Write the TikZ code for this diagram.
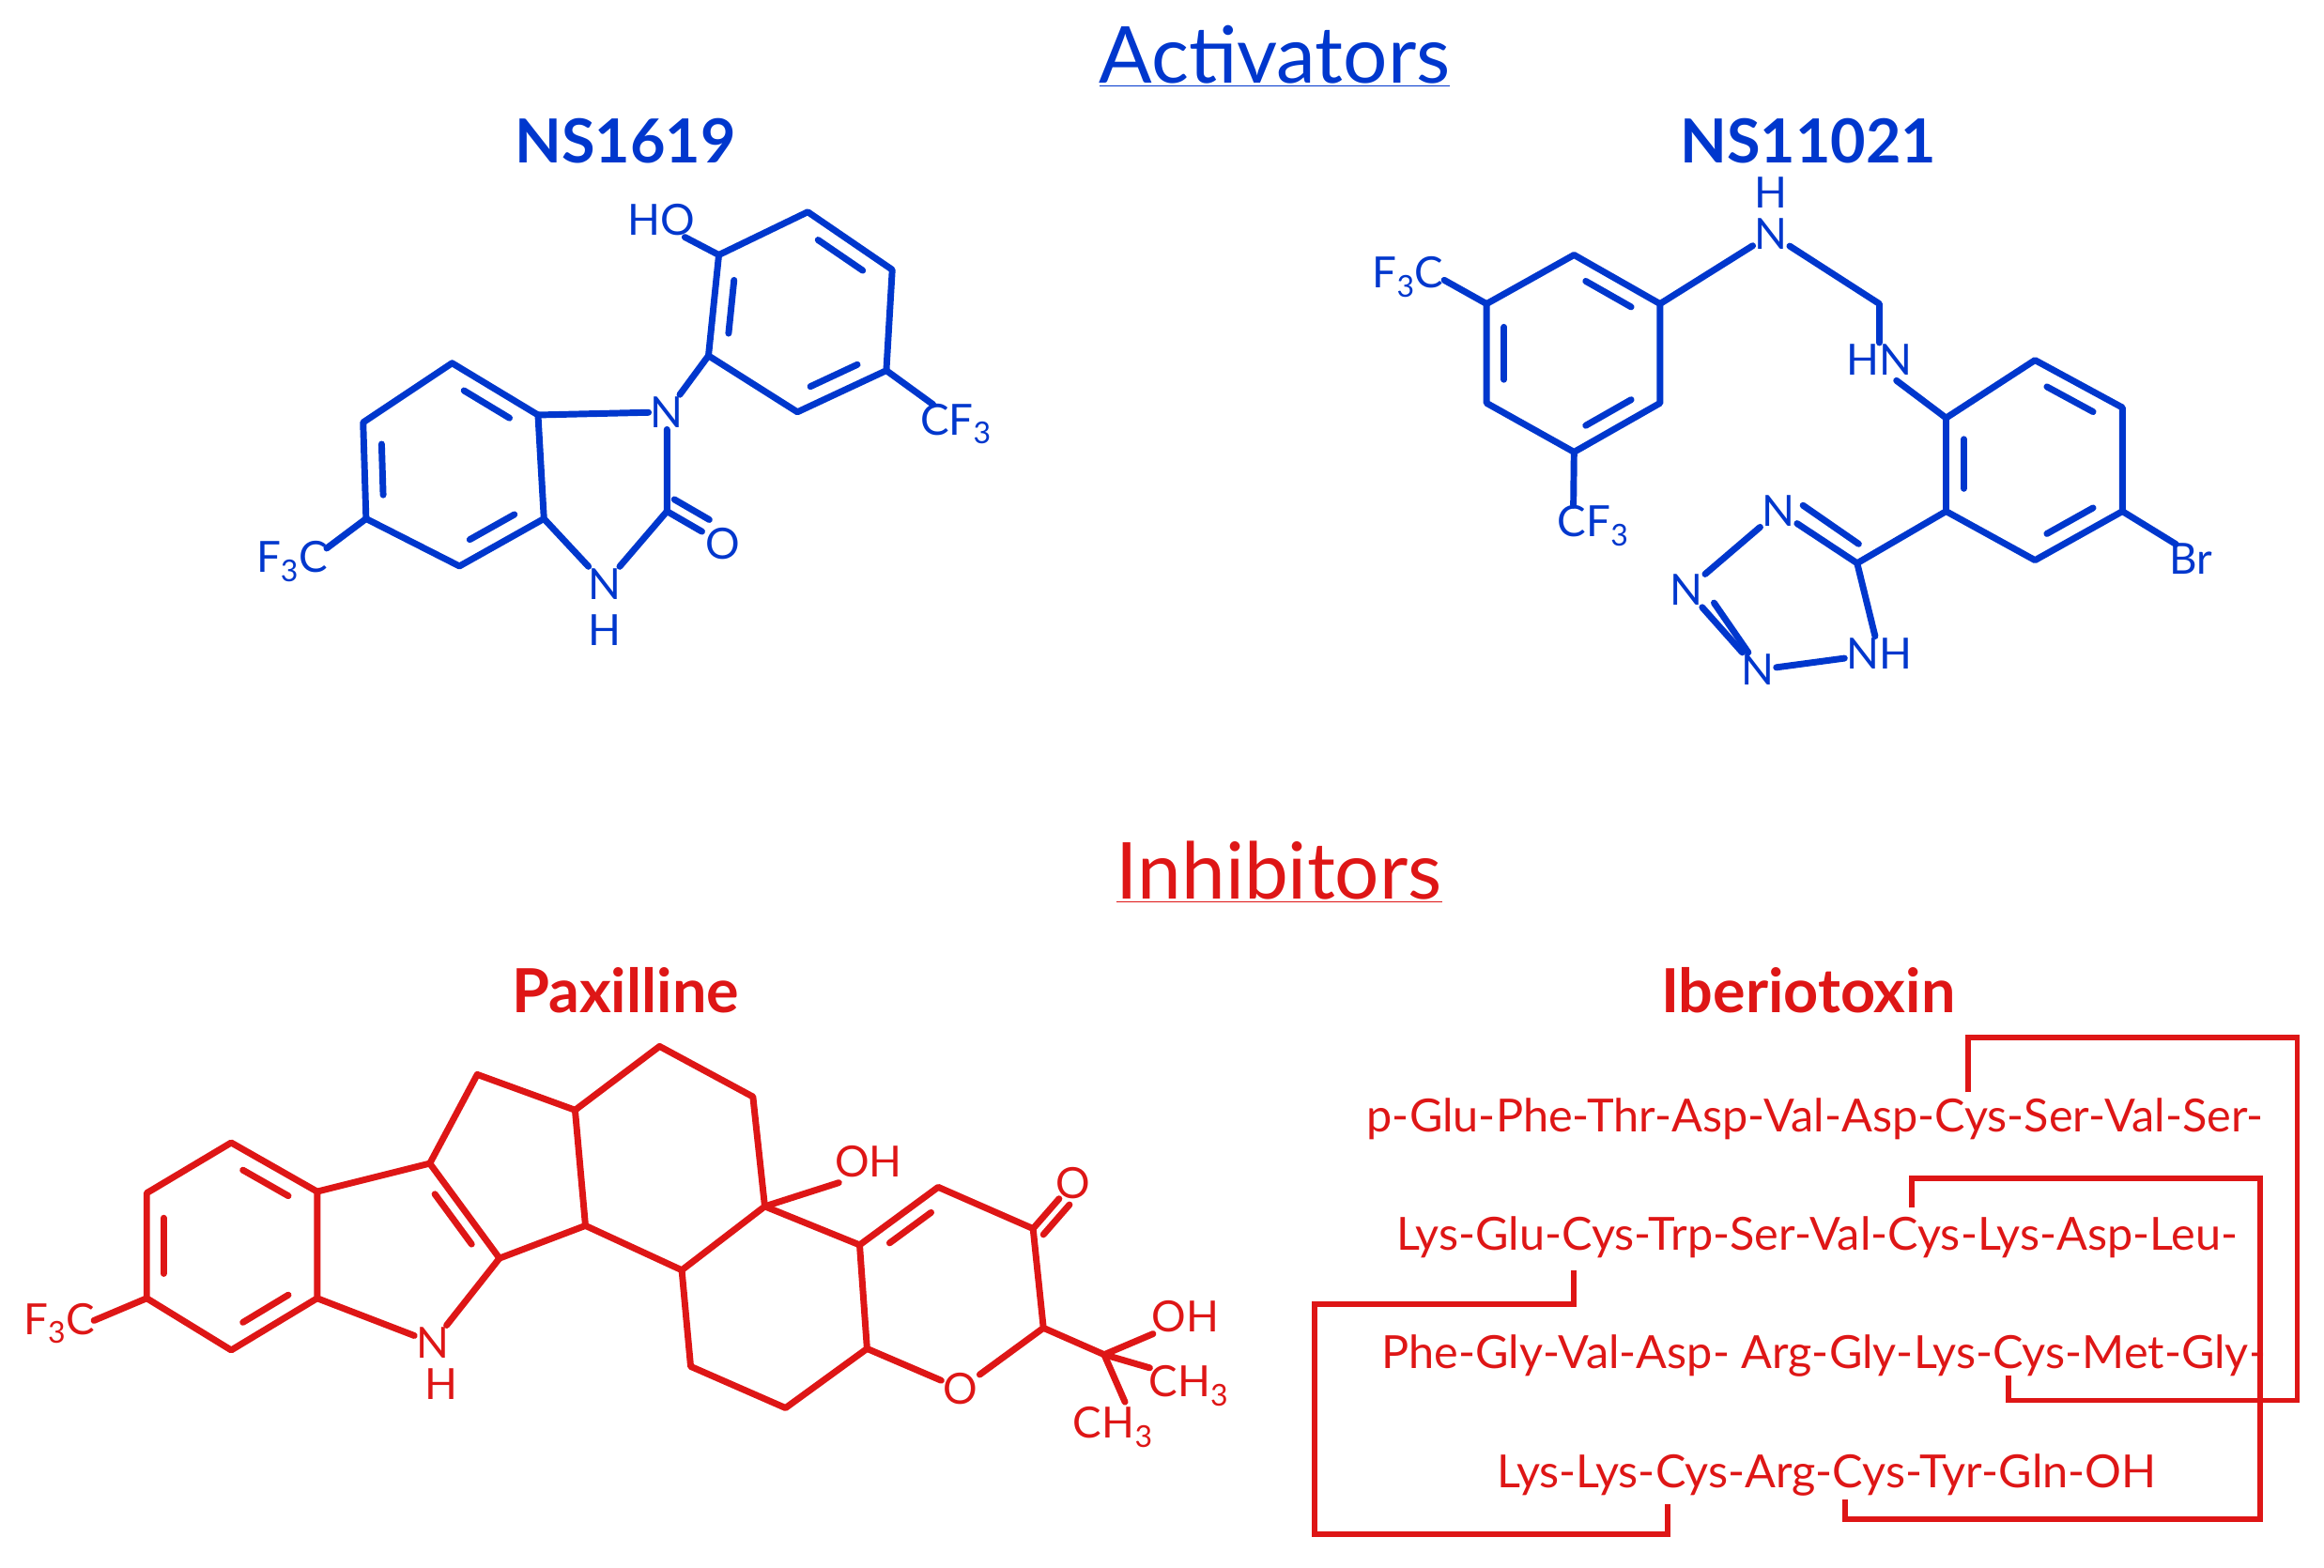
\documentclass[tikz,border=0pt]{standalone}
\usepackage{fontspec}
\setmainfont{Lato}
\usetikzlibrary{calc}
\definecolor{ablue}{RGB}{0,55,205}
\definecolor{ired}{RGB}{222,22,22}
\newcommand\dbl[4][]{\draw[bond,#1] ($($(#2)!.17!(#3)$)!.2!(#4)$) -- ($($(#2)!.83!(#3)$)!.2!(#4)$);}
\begin{document}
\begin{tikzpicture}[x=1pt,y=-1pt,
  bond/.style={line width=4.4pt,line cap=round,line join=round},
  atom/.style={inner sep=1.2pt,font=\fontsize{29}{31}\selectfont},
  ttl/.style={font=\fontsize{53}{56}\selectfont},
  cname/.style={font=\fontsize{41}{44}\selectfont\bfseries},
  seq/.style={font=\fontsize{30.8}{33}\selectfont,anchor=west,inner sep=0pt},
  link/.style={line width=3.6pt,ired}]
\useasboundingbox (0,0) rectangle (1568,1058);
% ---------- titles
\node[ttl,text=ablue] (tact) at (860,38) {\underline{Activators}};
\node[cname,text=ablue] (n1) at (422,95) {NS1619};
\node[cname,text=ablue] (n2) at (1220,95) {NS11021};
\node[ttl,text=ired] (tinh) at (863,588) {\underline{Inhibitors}};
\node[cname,text=ired] (n3) at (422,668) {Paxilline};
\node[cname,text=ired] (n4) at (1220,668) {Iberiotoxin};
% ---------- NS1619
\begin{scope}[ablue,every node/.style={atom,text=ablue}]
\coordinate (a1) at (305,245); \coordinate (a2) at (245,285); \coordinate (a3) at (247,350);
\coordinate (a4) at (310,382); \coordinate (a5) at (367,350); \coordinate (a6) at (363,280);
\coordinate (ca) at (306,314);
\node (aN) at (450,278) {N};
\coordinate (aC) at (450,345);
\node (aNH) at (408,394) {N}; \node (aH) at (408,425) {H};
\node (aO) at (488,367) {O};
\node (aHO) at (446,148) {HO};
\node (aCF) at (645,286) {CF\textsubscript{3}};
\node (aFC) at (197,379) {F\textsubscript{3}C};
\coordinate (b1) at (478,240); \coordinate (b2) at (485,172); \coordinate (b3) at (545,143);
\coordinate (b4) at (602,182); \coordinate (b5) at (598,250); \coordinate (b6) at (538,278);
\coordinate (cb) at (541,211);
\draw[bond] (a1)--(a2)--(a3)--(a4)--(a5)--(a6)--cycle;
\dbl{a1}{a6}{ca} \dbl{a2}{a3}{ca} \dbl{a4}{a5}{ca}
\draw[bond] (a6)--(aN)--(aC)--(aNH)--(a5);
\draw[bond] (aC)--($(aC)!0.62!(aO.center)$);
\draw[bond] ($(aC)+(5,-8)$)--($($(aC)!0.62!(aO.center)$)+(5,-8)$);
\draw[bond] (b1)--(b2)--(b3)--(b4)--(b5)--(b6)--cycle;
\dbl{b1}{b2}{cb} \dbl{b3}{b4}{cb} \dbl{b5}{b6}{cb}
\draw[bond] (b1)--(aN);
\draw[bond] (b2)--($(aHO.south east)+(-8,0)$);
\draw[bond] (b5)--($(aCF.north west)+(10,2)$);
\draw[bond] (a3)--($(aFC.north east)+(-2,6)$);
\end{scope}
% ---------- NS11021
\begin{scope}[ablue,every node/.style={atom,text=ablue}]
\coordinate (B1) at (1062,172); \coordinate (B2) at (1003,205); \coordinate (B3) at (1003,272);
\coordinate (B4) at (1062,305); \coordinate (B5) at (1120,272); \coordinate (B6) at (1120,205);
\coordinate (cB) at (1062,238);
\node (xN) at (1195,158) {N}; \node (xH) at (1195,130) {H};
\coordinate (xCH) at (1268,205);
\node (xHN) at (1268,243) {HN};
\coordinate (c1) at (1313,282); \coordinate (c2) at (1373,243); \coordinate (c3) at (1432,275);
\coordinate (c4) at (1432,345); \coordinate (c5) at (1373,378); \coordinate (c6) at (1313,345);
\coordinate (cC) at (1373,311);
\node (xBr) at (1478,377) {Br};
\coordinate (T) at (1253,380);
\node (Nt) at (1200,345) {N}; \node (Nl) at (1138,398) {N};
\node (Nb) at (1186,452) {N}; \node (NHt) at (1268,441) {NH};
\node (xFC) at (950,187) {F\textsubscript{3}C};
\node (xCF) at (1075,355) {CF\textsubscript{3}};
\draw[bond] (B1)--(B2)--(B3)--(B4)--(B5)--(B6)--cycle;
\dbl{B1}{B6}{cB} \dbl{B2}{B3}{cB} \dbl{B4}{B5}{cB}
\draw[bond] (B6)--(xN)--(xCH)--(xHN);
\draw[bond] (xHN.south east)++(-12,2)--(c1);
\draw[bond] (c1)--(c2)--(c3)--(c4)--(c5)--(c6)--cycle;
\dbl{c2}{c3}{cC} \dbl{c1}{c6}{cC} \dbl{c4}{c5}{cC}
\draw[bond] (c4)--($(xBr.north west)+(6,2)$);
\draw[bond] (c6)--(T)--(Nt)--(Nl)--(Nb)--(NHt)--(T);
\draw[bond] ($(T)+(1,-13)$)--($(Nt.east)+(4,-4)$);
\draw[bond] ($(Nl.south east)+(6,-3)$)--($(Nb.north west)+(6,0)$);
\draw[bond] (B2)--($(xFC.east)+(-1,2)$);
\draw[bond] (B4)--($(xCF.north west)+(12,1)$);
\end{scope}
% ---------- Paxilline
\begin{scope}[ired,every node/.style={atom,text=ired}]
\coordinate (p1) at (156,771); \coordinate (p2) at (99,805); \coordinate (p3) at (99,876);
\coordinate (p4) at (156,911); \coordinate (p5) at (214,876); \coordinate (p6) at (214,804);
\coordinate (cp) at (156,841);
\coordinate (q1) at (290,785); \coordinate (q2) at (337,849);
\node (pN) at (292,906) {N}; \node (pH) at (298,934) {H};
\coordinate (cq) at (275,845);
\coordinate (r1) at (322,725); \coordinate (r2) at (388,749); \coordinate (r3) at (395,827);
\coordinate (s1) at (445,706); \coordinate (s2) at (508,740); \coordinate (s3) at (516,814);
\coordinate (s4) at (460,857);
\coordinate (t1) at (466,922); \coordinate (t2) at (530,950); \coordinate (t3) at (585,910);
\coordinate (t4) at (580,840);
\coordinate (u1) at (633,801); \coordinate (u2) at (697,829); \coordinate (u3) at (704,896);
\coordinate (cu) at (645,860);
\node (pO) at (648,937) {O};
\node (pOx) at (724,798) {O};
\node (pOH1) at (586,784) {OH};
\coordinate (pQ) at (745,914);
\node (pOH2) at (800,888) {OH};
\node (pCH1) at (802,935) {CH\textsubscript{3}};
\node (pCH2) at (751,963) {CH\textsubscript{3}};
\node (pFC) at (40,893) {F\textsubscript{3}C};
\draw[bond] (p1)--(p2)--(p3)--(p4)--(p5)--(p6)--cycle;
\dbl{p1}{p6}{cp} \dbl{p2}{p3}{cp} \dbl{p4}{p5}{cp}
\draw[bond] (p6)--(q1)--(q2)--(pN)--(p5);
\dbl{q1}{q2}{cq}
\draw[bond] (q1)--(r1)--(r2)--(r3)--(q2);
\draw[bond] (r2)--(s1)--(s2)--(s3)--(s4)--(r3);
\draw[bond] (s4)--(t1)--(t2)--(t3)--(t4)--(s3);
\draw[bond] (t4)--(u1)--(u2)--(u3)--(pO)--(t3);
\dbl{t4}{u1}{cu}
\draw[bond] (u2)--($(u2)!0.65!(pOx.center)$);
\draw[bond] ($(u2)+(7,4)$)--($($(u2)!0.65!(pOx.center)$)+(7,4)$);
\draw[bond] (s3)--($(pOH1.south west)+(4,2)$);
\draw[bond] (u3)--(pQ);
\draw[bond] (pQ)--($(pOH2.south west)+(2,0)$);
\draw[bond] (pQ)--($(pCH1.north west)+(2,3)$);
\draw[bond] (pQ)--($(pCH2.north)+(8,-2)$);
\draw[bond] (p3)--($(pFC.east)+(-2,-2)$);
\end{scope}
% ---------- Iberiotoxin
\begin{scope}[every node/.style={seq,text=ired}]
\node (l1) at (922,755) {p-Glu-Phe-Thr-Asp-Val-Asp-Cys-Ser-Val-Ser-};
\node (l2) at (942,835) {Lys-Glu-Cys-Trp-Ser-Val-Cys-Lys-Asp-Leu-};
\node (l3) at (932,915) {Phe-Gly-Val-Asp- Arg-Gly-Lys-Cys-Met-Gly-};
\node (l4) at (1010,995) {Lys-Lys-Cys-Arg-Cys-Tyr-Gln-OH};
\end{scope}
\coordinate (k1) at (1328,737); \coordinate (k1e) at (1355,928);
\coordinate (k2) at (1290,815); \coordinate (k2e) at (1245,1012);
\coordinate (k3) at (1062,857); \coordinate (k3e) at (1125,1015);
\draw[link] (k1)--(k1|-0,700)--(1550,700)--(1550,945)--(k1e|-0,945)--(k1e);
\draw[link] (k2)--(k2|-0,795)--(1525,795)--(1525,1025)--(k2e|-0,1025)--(k2e);
\draw[link] (k3)--(k3|-0,880)--(887,880)--(887,1035)--(k3e|-0,1035)--(k3e);
\end{tikzpicture}
\end{document}
